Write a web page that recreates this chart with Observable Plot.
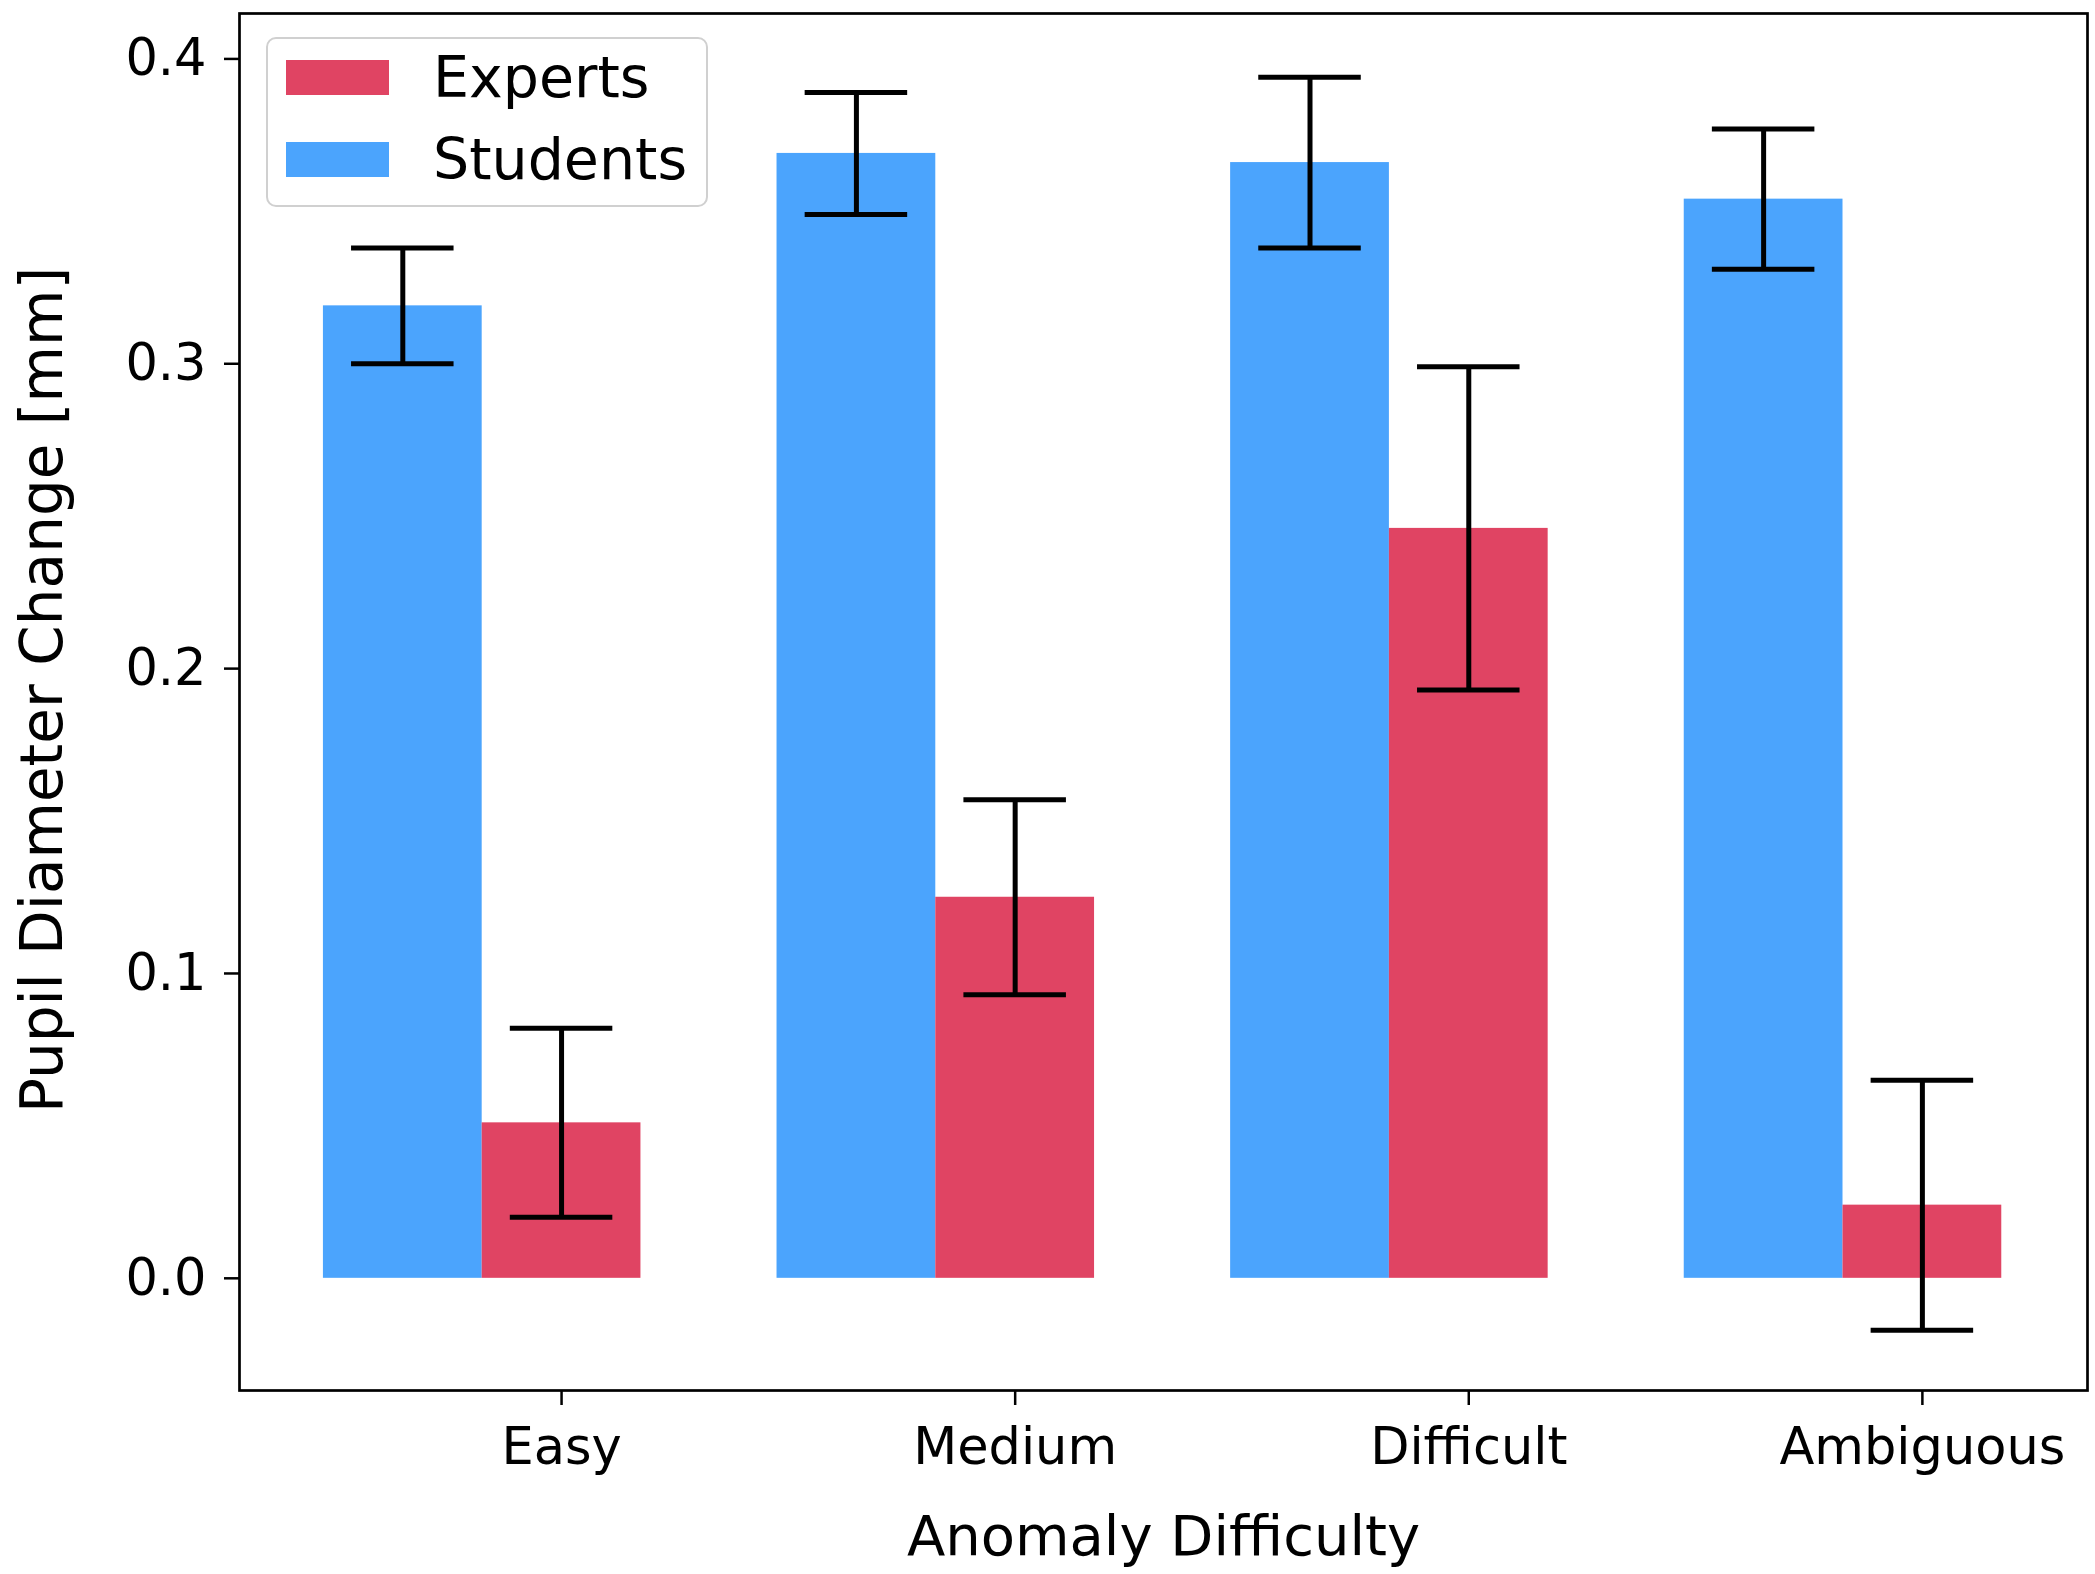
<!DOCTYPE html>
<html>
<head>
<meta charset="utf-8">
<script src="https://cdn.jsdelivr.net/npm/d3@7"></script>
<script src="https://cdn.jsdelivr.net/npm/@observablehq/plot@0.6"></script>
<style>
  html, body { margin: 0; padding: 0; background: #fff; }
  #wrap { position: relative; width: 2095px; height: 1574px; font-family: "DejaVu Sans", sans-serif; }
  #legend { position: absolute; left: 266px; top: 37px; width: 442px; height: 170px;
    border: 2px solid #d0d0d0; border-radius: 10px; background: rgba(255,255,255,0.85); box-sizing: border-box; }
  .item { position: absolute; left: 18px; display: flex; align-items: center; font-size: 57px; color: #000; }
  .sw { width: 103px; height: 35px; margin-right: 44px; }
</style>
</head>
<body>
<div id="wrap"></div>
<script>
const categories = ["Easy", "Medium", "Difficult", "Ambiguous"];
const seriesNames = ["Experts", "Students"];
const studentsMean = [0.319, 0.369, 0.366, 0.354];
const studentsErr  = [0.019, 0.020, 0.028, 0.023];
const expertsMean  = [0.051, 0.125, 0.246, 0.024];
const expertsErr   = [0.031, 0.032, 0.053, 0.041];
const colors = { Experts: "#e04463", Students: "#4ba4fd" };

const barW = 0.35;
const capHalf = 0.113;

const rows = [];
categories.forEach((c, i) => {
  rows.push({cat: c, series: "Students", center: i - barW, value: studentsMean[i], err: studentsErr[i]});
  rows.push({cat: c, series: "Experts", center: i, value: expertsMean[i], err: expertsErr[i]});
});

const chart = Plot.plot({
  width: 2095,
  height: 1574,
  marginLeft: 239,
  marginRight: 8,
  marginTop: 13,
  marginBottom: 184,
  style: { fontFamily: "DejaVu Sans, sans-serif", background: "white", color: "black" },
  x: { type: "linear", domain: [-0.71, 3.364] },
  y: { domain: [-0.0368, 0.4149] },
  marks: [
    Plot.rect(rows, {
      x1: d => d.center - barW / 2, x2: d => d.center + barW / 2,
      y1: 0, y2: "value",
      fill: d => colors[d.series]
    }),
    Plot.ruleX(rows, { x: "center", y1: d => d.value - d.err, y2: d => d.value + d.err, stroke: "black", strokeWidth: 5 }),
    Plot.ruleY(rows, { y: d => d.value + d.err, x1: d => d.center - capHalf, x2: d => d.center + capHalf, stroke: "black", strokeWidth: 5 }),
    Plot.ruleY(rows, { y: d => d.value - d.err, x1: d => d.center - capHalf, x2: d => d.center + capHalf, stroke: "black", strokeWidth: 5 }),
    Plot.axisX({ ticks: [0, 1, 2, 3], tickFormat: i => categories[i], tickSize: 15, tickPadding: 22, fontSize: 51, label: null, strokeWidth: 2.5 }),
    Plot.axisY({ ticks: [0, 0.1, 0.2, 0.3, 0.4], tickFormat: d3.format(".1f"), tickSize: 15, tickPadding: 18, fontSize: 51, label: null, strokeWidth: 2.5 }),
    Plot.frame({ stroke: "black", strokeWidth: 2.7 }),
    Plot.text(["Anomaly Difficulty"], { frameAnchor: "bottom", dy: 147, fontSize: 56, lineAnchor: "middle", textAnchor: "middle", fill: "black" }),
    Plot.text(["Pupil Diameter Change [mm]"], { frameAnchor: "left", dx: -196, dy: -12, rotate: -90, fontSize: 58, lineAnchor: "middle", textAnchor: "middle", fill: "black" })
  ]
});

const wrap = document.getElementById("wrap");
wrap.appendChild(chart);

const legend = document.createElement("div");
legend.id = "legend";
seriesNames.forEach((s, k) => {
  const item = document.createElement("div");
  item.className = "item";
  item.style.top = (k === 0 ? 5 : 87) + "px";
  const sw = document.createElement("div");
  sw.className = "sw";
  sw.style.background = colors[s];
  const label = document.createElement("span");
  label.textContent = s;
  item.appendChild(sw);
  item.appendChild(label);
  legend.appendChild(item);
});
wrap.appendChild(legend);
</script>
</body>
</html>
